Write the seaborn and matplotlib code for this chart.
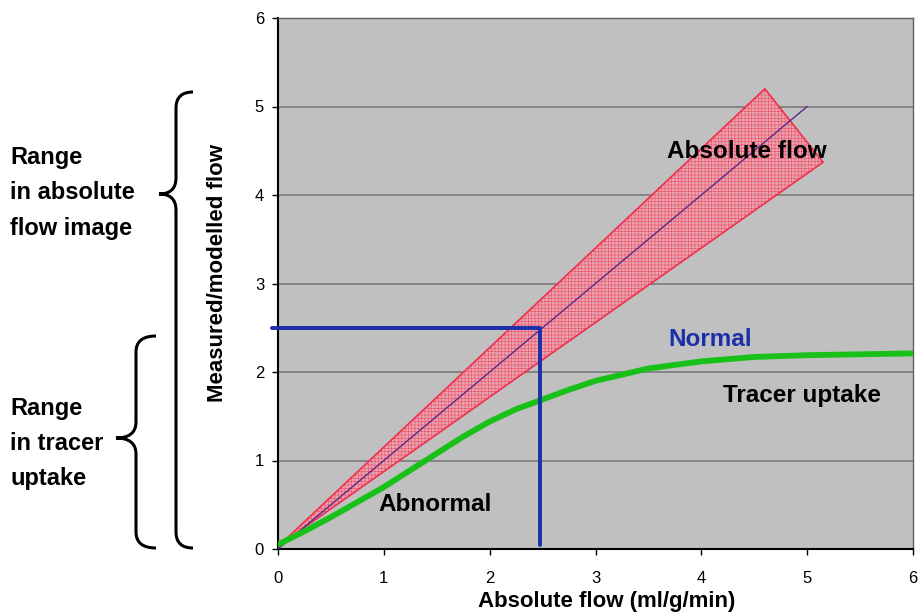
import numpy as np
import pandas as pd
import seaborn as sns
import matplotlib.pyplot as plt
from matplotlib.path import Path
from matplotlib.patches import PathPatch

# %% data
uptake_x = [0, 0.25, 0.5, 0.75, 1, 1.25, 1.5, 1.75, 2, 2.25, 2.5, 2.75, 3, 3.5, 4, 4.5, 5, 5.5, 6]
uptake_y = [0.05, 0.20, 0.36, 0.53, 0.70, 0.89, 1.08, 1.27, 1.44, 1.58, 1.69, 1.80, 1.90,
            2.04, 2.12, 2.17, 2.19, 2.20, 2.21]
identity_x = [0, 5]
identity_y = [0, 5]
wedge_x = [0.02, 4.6, 5.15]       # tip, upper corner, lower corner
wedge_y = [0.05, 5.2, 4.37]
cutoff_x = [-0.06, 2.48, 2.48]   # normal/abnormal threshold
cutoff_y = [2.5, 2.5, 0.05]
ticks = [0, 1, 2, 3, 4, 5, 6]

uptake = pd.DataFrame({"x": uptake_x, "y": uptake_y})
ident = pd.DataFrame({"x": identity_x, "y": identity_y})
cutoff = pd.DataFrame({"x": cutoff_x, "y": cutoff_y})

# %% style
sns.set_style("white")
plt.rcParams["font.family"] = ["Liberation Sans", "DejaVu Sans"]
plt.rcParams["text.color"] = "black"
plt.rcParams["axes.labelcolor"] = "black"
plt.rcParams["xtick.color"] = "black"
plt.rcParams["ytick.color"] = "black"
plt.rcParams["hatch.color"] = "#e8788c"
plt.rcParams["hatch.linewidth"] = 0.3

BLUE = "#1a30a8"

fig = plt.figure(figsize=(9.18, 6.15), dpi=100)
ax = fig.add_axes([278 / 918, 1 - 549 / 615, 635 / 918, 531 / 615])
ax.set_facecolor("#c0c0c0")

for y in ticks[1:-1]:
    ax.axhline(y, color="#808080", lw=1.3, zorder=1)

ax.fill(wedge_x, wedge_y, facecolor="#e8a4ae", edgecolor="#f0304e", lw=1.2,
        hatch="+++++", zorder=2)
sns.lineplot(data=ident, x="x", y="y", ax=ax, color="#5a2a88", lw=1.0, zorder=3)
sns.lineplot(data=uptake, x="x", y="y", ax=ax, color="#18c018", lw=4.2, zorder=4)
sns.lineplot(data=cutoff, x="x", y="y", ax=ax, color=BLUE, lw=2.8, sort=False,
             estimator=None, zorder=5)
ax.lines[-1].set_clip_on(False)

ax.set_xlim(0, 6)
ax.set_ylim(0, 6)
ax.set_xticks(ticks)
ax.set_yticks(ticks)
ax.tick_params(axis="both", labelsize=12, direction="out", length=4, width=1,
               left=True, bottom=True)
ax.tick_params(axis="x", pad=12)
ax.tick_params(axis="y", pad=6)
for side in ["left", "bottom"]:
    ax.spines[side].set_color("black")
    ax.spines[side].set_linewidth(1.5)
for side in ["top", "right"]:
    ax.spines[side].set_color("#606060")
    ax.spines[side].set_linewidth(1.0)

ax.set_xlabel("Absolute flow (ml/g/min)", fontsize=16, fontweight="bold")
ax.set_ylabel("Measured/modelled flow", fontsize=16, fontweight="bold")
ax.xaxis.set_label_coords(0.517, -0.079)
ax.yaxis.set_label_coords(-0.078, 0.52)

lab = dict(fontsize=17.5, fontweight="bold", ha="center", va="center", zorder=6)
ax.text(4.43, 4.49, "Absolute flow", color="black", **lab)
ax.text(4.08, 2.37, "Normal", color=BLUE, **lab)
ax.text(4.95, 1.73, "Tracer uptake", color="black", **lab)
ax.text(1.48, 0.50, "Abnormal", color="black", **lab)

# %% braces and their captions, in figure pixels
W, H = 918, 615


def brace(x_end, x_tip, y_top, y_tip, y_bot):
    xm = (x_end + x_tip) / 2
    r = 16
    pts = [
        (x_end, y_top), (xm, y_top), (xm, y_top + r),
        (xm, y_tip - r), (xm, y_tip), (x_tip, y_tip),
        (xm, y_tip), (xm, y_tip + r),
        (xm, y_bot - r), (xm, y_bot), (x_end, y_bot),
    ]
    codes = [Path.MOVETO, Path.CURVE3, Path.CURVE3, Path.LINETO, Path.CURVE3, Path.CURVE3,
             Path.CURVE3, Path.CURVE3, Path.LINETO, Path.CURVE3, Path.CURVE3]
    verts = [(x / W, 1 - y / H) for x, y in pts]
    fig.add_artist(PathPatch(Path(verts, codes), fill=False, lw=2.2, color="black",
                             transform=fig.transFigure))


brace(193, 159, 92, 194, 548)
brace(156, 116, 336, 438, 548)

side = dict(fontsize=17, fontweight="bold", ha="left", va="center")
for txt, y in [("Range", 158), ("in absolute", 192), ("flow image", 228),
               ("Range", 409), ("in tracer", 443), ("uptake", 479)]:
    fig.text(10 / W, 1 - y / H, txt, **side)

plt.savefig("out.png", dpi=100)
